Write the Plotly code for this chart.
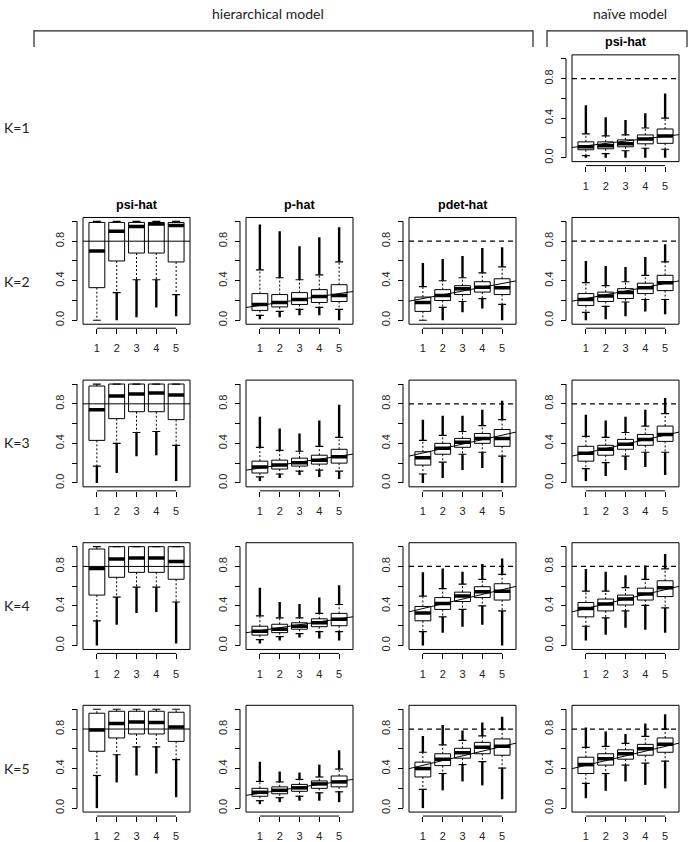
import plotly.graph_objects as go

W, H = 689, 842

# ---------------- data ----------------
categories = [1, 2, 3, 4, 5]
x_tick_labels = ["1", "2", "3", "4", "5"]
y_tick_vals = [0.0, 0.2, 0.4, 0.6, 0.8, 1.0]
y_tick_labels = ["0.0", "", "0.4", "", "0.8", ""]
xlim = [0.3, 5.7]
ylim = [-0.04, 1.04]

row_labels = ["K=1", "K=2", "K=3", "K=4", "K=5"]
col_titles = ["psi-hat", "p-hat", "pdet-hat", "psi-hat"]
group_titles = ["hierarchical model", "naïve model"]

# each box: [outlier_low, whisker_low, q1, median, q3, whisker_high, outlier_high]
naive_psi_K1 = [
    [0.00, 0.02, 0.08, 0.11, 0.16, 0.24, 0.53],
    [0.00, 0.04, 0.09, 0.12, 0.16, 0.22, 0.41],
    [0.00, 0.07, 0.11, 0.14, 0.18, 0.23, 0.38],
    [0.00, 0.095, 0.14, 0.19, 0.23, 0.30, 0.45],
    [0.00, 0.085, 0.145, 0.22, 0.29, 0.40, 0.65],
]

hier_psi_K2 = [
    [0.00, 0.00, 0.33, 0.70, 0.99, 1.00, 1.00],
    [0.00, 0.28, 0.60, 0.90, 0.99, 1.00, 1.00],
    [0.03, 0.41, 0.68, 0.95, 0.99, 1.00, 1.00],
    [0.13, 0.41, 0.68, 0.975, 0.99, 1.00, 1.00],
    [0.04, 0.26, 0.59, 0.96, 0.99, 1.00, 1.00],
]
hier_p_K2 = [
    [0.01, 0.05, 0.10, 0.16, 0.27, 0.51, 0.97],
    [0.03, 0.09, 0.135, 0.18, 0.26, 0.43, 0.90],
    [0.05, 0.11, 0.16, 0.21, 0.28, 0.41, 0.75],
    [0.05, 0.13, 0.18, 0.24, 0.31, 0.46, 0.84],
    [0.00, 0.11, 0.19, 0.25, 0.36, 0.59, 0.94],
]
hier_pdet_K2 = [
    [0.00, 0.00, 0.09, 0.18, 0.235, 0.34, 0.58],
    [0.00, 0.13, 0.20, 0.25, 0.31, 0.40, 0.62],
    [0.08, 0.19, 0.26, 0.32, 0.35, 0.43, 0.65],
    [0.12, 0.22, 0.285, 0.335, 0.39, 0.48, 0.73],
    [0.00, 0.16, 0.26, 0.33, 0.42, 0.54, 0.74],
]
naive_psi_K2 = [
    [0.00, 0.08, 0.15, 0.21, 0.27, 0.38, 0.60],
    [0.01, 0.14, 0.19, 0.245, 0.285, 0.35, 0.55],
    [0.04, 0.185, 0.22, 0.28, 0.32, 0.39, 0.54],
    [0.09, 0.21, 0.27, 0.33, 0.375, 0.455, 0.64],
    [0.06, 0.21, 0.30, 0.38, 0.455, 0.59, 0.77],
]

hier_psi_K3 = [
    [0.00, 0.17, 0.43, 0.74, 0.98, 1.00, 1.00],
    [0.10, 0.40, 0.65, 0.88, 1.00, 1.00, 1.00],
    [0.27, 0.51, 0.72, 0.90, 1.00, 1.00, 1.00],
    [0.28, 0.52, 0.72, 0.91, 1.00, 1.00, 1.00],
    [0.02, 0.38, 0.64, 0.89, 1.00, 1.00, 1.00],
]
hier_p_K3 = [
    [0.02, 0.06, 0.10, 0.16, 0.22, 0.36, 0.67],
    [0.05, 0.09, 0.14, 0.18, 0.23, 0.33, 0.55],
    [0.08, 0.12, 0.17, 0.205, 0.25, 0.32, 0.50],
    [0.06, 0.13, 0.19, 0.23, 0.28, 0.37, 0.63],
    [0.04, 0.12, 0.20, 0.265, 0.34, 0.46, 0.79],
]
hier_pdet_K3 = [
    [0.00, 0.09, 0.18, 0.255, 0.315, 0.43, 0.64],
    [0.05, 0.21, 0.29, 0.35, 0.40, 0.48, 0.68],
    [0.13, 0.29, 0.36, 0.41, 0.45, 0.52, 0.68],
    [0.15, 0.31, 0.40, 0.45, 0.50, 0.58, 0.74],
    [0.00, 0.27, 0.37, 0.45, 0.54, 0.64, 0.83],
]
naive_psi_K3 = [
    [0.02, 0.145, 0.22, 0.30, 0.37, 0.47, 0.69],
    [0.07, 0.205, 0.28, 0.34, 0.38, 0.46, 0.63],
    [0.13, 0.27, 0.34, 0.39, 0.44, 0.51, 0.67],
    [0.16, 0.31, 0.38, 0.44, 0.49, 0.575, 0.74],
    [0.08, 0.31, 0.42, 0.49, 0.575, 0.70, 0.86],
]

hier_psi_K4 = [
    [0.00, 0.25, 0.51, 0.78, 0.976, 1.00, 1.00],
    [0.21, 0.49, 0.69, 0.875, 1.00, 1.00, 1.00],
    [0.33, 0.59, 0.74, 0.885, 1.00, 1.00, 1.00],
    [0.34, 0.59, 0.74, 0.885, 1.00, 1.00, 1.00],
    [0.02, 0.44, 0.67, 0.85, 1.00, 1.00, 1.00],
]
hier_p_K4 = [
    [0.02, 0.06, 0.105, 0.145, 0.195, 0.30, 0.585],
    [0.05, 0.09, 0.13, 0.165, 0.215, 0.28, 0.44],
    [0.08, 0.12, 0.165, 0.195, 0.23, 0.28, 0.42],
    [0.07, 0.14, 0.19, 0.23, 0.27, 0.325, 0.485],
    [0.05, 0.14, 0.20, 0.265, 0.325, 0.415, 0.61],
]
hier_pdet_K4 = [
    [0.00, 0.14, 0.25, 0.33, 0.395, 0.50, 0.74],
    [0.13, 0.29, 0.365, 0.425, 0.485, 0.575, 0.78],
    [0.19, 0.365, 0.445, 0.50, 0.54, 0.62, 0.745],
    [0.21, 0.40, 0.485, 0.545, 0.595, 0.67, 0.825],
    [0.00, 0.35, 0.46, 0.55, 0.625, 0.72, 0.88],
]
naive_psi_K4 = [
    [0.05, 0.195, 0.29, 0.375, 0.435, 0.55, 0.775],
    [0.11, 0.28, 0.35, 0.42, 0.47, 0.55, 0.745],
    [0.18, 0.35, 0.41, 0.47, 0.51, 0.585, 0.71],
    [0.16, 0.405, 0.46, 0.52, 0.58, 0.67, 0.81],
    [0.13, 0.38, 0.495, 0.585, 0.655, 0.775, 0.925],
]

hier_psi_K5 = [
    [0.00, 0.33, 0.575, 0.79, 0.96, 1.00, 1.00],
    [0.26, 0.54, 0.71, 0.855, 0.98, 1.00, 1.00],
    [0.33, 0.62, 0.75, 0.87, 0.98, 1.00, 1.00],
    [0.35, 0.62, 0.75, 0.865, 0.98, 1.00, 1.00],
    [0.11, 0.49, 0.675, 0.82, 0.97, 1.00, 1.00],
]
hier_p_K5 = [
    [0.04, 0.075, 0.12, 0.16, 0.20, 0.27, 0.47],
    [0.06, 0.105, 0.145, 0.18, 0.215, 0.265, 0.37],
    [0.075, 0.12, 0.17, 0.205, 0.24, 0.29, 0.36],
    [0.075, 0.155, 0.20, 0.245, 0.275, 0.315, 0.44],
    [0.06, 0.165, 0.215, 0.265, 0.325, 0.395, 0.585],
]
hier_pdet_K5 = [
    [0.00, 0.19, 0.315, 0.40, 0.465, 0.565, 0.73],
    [0.18, 0.35, 0.43, 0.495, 0.55, 0.64, 0.84],
    [0.27, 0.44, 0.505, 0.56, 0.605, 0.685, 0.785],
    [0.23, 0.47, 0.55, 0.615, 0.665, 0.73, 0.865],
    [0.09, 0.405, 0.535, 0.625, 0.70, 0.80, 0.925],
]
naive_psi_K5 = [
    [0.10, 0.25, 0.35, 0.44, 0.515, 0.615, 0.815],
    [0.175, 0.35, 0.435, 0.50, 0.55, 0.625, 0.775],
    [0.27, 0.435, 0.495, 0.55, 0.59, 0.655, 0.75],
    [0.235, 0.455, 0.535, 0.60, 0.645, 0.725, 0.855],
    [0.20, 0.475, 0.565, 0.645, 0.71, 0.80, 0.95],
]

# reference lines (as drawn with abline): true psi, and intercept/slope lines
true_psi = 0.8
p_true_line = (0.12, 0.030)                 # intercept, slope
pdet_true_line = {                          # per K: intercept, slope
    1: (0.096, 0.024),
    2: (0.182, 0.038),
    3: (0.2575, 0.045),
    4: (0.326, 0.0478),
    5: (0.385, 0.0478),
}

# ---------------- layout geometry (pixels) ----------------
row_tops = [55, 218, 381, 544, 707]
col_lefts = [83, 246, 409, 572]
PW, PH = 107, 107
row_label_y = [128, 282, 444, 607, 770]

panels = [(0, 3, naive_psi_K1, "psi_hat_naive", 1)]
hier_sets = {2: (hier_psi_K2, hier_p_K2, hier_pdet_K2, naive_psi_K2),
             3: (hier_psi_K3, hier_p_K3, hier_pdet_K3, naive_psi_K3),
             4: (hier_psi_K4, hier_p_K4, hier_pdet_K4, naive_psi_K4),
             5: (hier_psi_K5, hier_p_K5, hier_pdet_K5, naive_psi_K5)}
kinds = ["psi_hier", "p", "pdet", "psi_hat_naive"]
for K in [2, 3, 4, 5]:
    for c in range(4):
        panels.append((K - 1, c, hier_sets[K][c], kinds[c], K))

fig = go.Figure()
layout_axes = {}
shapes = []
annotations = []

TICKFONT = dict(family="Liberation Sans, Arial, sans-serif", size=11, color="#222")

for i, (r, c, data, kind, K) in enumerate(panels):
    n = i + 1
    xa = "x" if n == 1 else f"x{n}"
    ya = "y" if n == 1 else f"y{n}"
    xkey = "xaxis" if n == 1 else f"xaxis{n}"
    ykey = "yaxis" if n == 1 else f"yaxis{n}"
    left, top = col_lefts[c], row_tops[r]
    x0p, x1p = left / W, (left + PW) / W
    y0p, y1p = 1 - (top + PH) / H, 1 - top / H
    yaxis_pos = (left - 6) / W
    xaxis_pos = 1 - (top + PH + 4) / H

    layout_axes[xkey] = dict(domain=[x0p, x1p], range=xlim, anchor="free", position=xaxis_pos,
                             tickmode="array", tickvals=categories, ticktext=x_tick_labels,
                             ticks="outside", ticklen=5, tickwidth=1, tickcolor="black",
                             showline=False, showgrid=False, zeroline=False,
                             tickfont=TICKFONT, ticklabelstandoff=5, fixedrange=True)
    layout_axes[ykey] = dict(domain=[y0p, y1p], range=ylim, anchor="free", position=yaxis_pos,
                             tickmode="array", tickvals=y_tick_vals, ticktext=y_tick_labels,
                             ticks="outside", ticklen=5, tickwidth=1, tickcolor="black",
                             tickangle=-90, showline=False, showgrid=False, zeroline=False,
                             tickfont=TICKFONT, ticklabelstandoff=4, fixedrange=True)

    olo = [b[0] for b in data]
    wlo = [b[1] for b in data]
    q1 = [b[2] for b in data]
    med = [b[3] for b in data]
    q3 = [b[4] for b in data]
    whi = [b[5] for b in data]
    ohi = [b[6] for b in data]

    # boxes
    fig.add_trace(go.Box(x=categories, q1=q1, median=med, q3=q3, lowerfence=q1, upperfence=q3,
                         width=0.8, whiskerwidth=0, boxpoints=False, fillcolor="white",
                         line=dict(color="black", width=1), xaxis=xa, yaxis=ya,
                         showlegend=False, hoverinfo="skip"))
    # whiskers (dashed)
    wx, wy = [], []
    for k, xc in enumerate(categories):
        wx += [xc, xc, None, xc, xc, None]
        wy += [q3[k], whi[k], None, q1[k], wlo[k], None]
    fig.add_trace(go.Scatter(x=wx, y=wy, mode="lines", line=dict(color="black", width=1, dash="2px,2px"),
                             xaxis=xa, yaxis=ya, showlegend=False, hoverinfo="skip"))
    # staples
    sx, sy = [], []
    for k, xc in enumerate(categories):
        sx += [xc - 0.2, xc + 0.2, None, xc - 0.2, xc + 0.2, None]
        sy += [whi[k], whi[k], None, wlo[k], wlo[k], None]
    fig.add_trace(go.Scatter(x=sx, y=sy, mode="lines", line=dict(color="black", width=1.2),
                             xaxis=xa, yaxis=ya, showlegend=False, hoverinfo="skip"))
    # outlier streaks (dense outlier points)
    ox, oy = [], []
    for k, xc in enumerate(categories):
        if ohi[k] > whi[k]:
            ox += [xc, xc, None]
            oy += [whi[k], ohi[k], None]
        if olo[k] < wlo[k]:
            ox += [xc, xc, None]
            oy += [wlo[k], olo[k], None]
    fig.add_trace(go.Scatter(x=ox, y=oy, mode="lines", line=dict(color="black", width=2.4),
                             xaxis=xa, yaxis=ya, showlegend=False, hoverinfo="skip"))
    # thick medians
    mx, my = [], []
    for k, xc in enumerate(categories):
        mx += [xc - 0.4, xc + 0.4, None]
        my += [med[k], med[k], None]
    fig.add_trace(go.Scatter(x=mx, y=my, mode="lines", line=dict(color="black", width=3.5),
                             xaxis=xa, yaxis=ya, showlegend=False, hoverinfo="skip"))

    # reference lines
    dref_x = xa + " domain"
    if kind == "psi_hier":
        shapes.append(dict(type="line", xref=dref_x, yref=ya, x0=0, x1=1, y0=true_psi, y1=true_psi,
                           line=dict(color="black", width=1), layer="above"))
    else:
        if kind in ("pdet", "psi_hat_naive"):
            shapes.append(dict(type="line", xref=dref_x, yref=ya, x0=0, x1=1, y0=true_psi, y1=true_psi,
                               line=dict(color="black", width=1.2, dash="5px,4px"), layer="above"))
            a, b = pdet_true_line[K]
        else:
            a, b = p_true_line
        fig.add_trace(go.Scatter(x=xlim, y=[a + b * xlim[0], a + b * xlim[1]], mode="lines",
                                 line=dict(color="black", width=1), xaxis=xa, yaxis=ya,
                                 showlegend=False, hoverinfo="skip"))

    # frame
    shapes.append(dict(type="rect", xref=dref_x, yref=ya + " domain", x0=0, x1=1, y0=0, y1=1,
                       line=dict(color="black", width=1), layer="above"))
    # axis lines (R style: span first to last tick)
    shapes.append(dict(type="line", xref="paper", yref=ya, x0=yaxis_pos, x1=yaxis_pos,
                       y0=y_tick_vals[0], y1=y_tick_vals[-1], line=dict(color="black", width=1)))
    shapes.append(dict(type="line", xref=xa, yref="paper", x0=categories[0], x1=categories[-1],
                       y0=xaxis_pos, y1=xaxis_pos, line=dict(color="black", width=1)))

    # panel titles: naive model titled only in K=1 row, hierarchical columns in K=2 row
    if (r == 0) or (r == 1 and c < 3):
        annotations.append(dict(text=f"<b>{col_titles[c]}</b>", xref="paper", yref="paper",
                                x=(left + PW / 2) / W, y=1 - (top - 13) / H, showarrow=False,
                                xanchor="center", yanchor="middle",
                                font=dict(family="Liberation Sans, Arial, sans-serif", size=12.5, color="black")))

# row labels
for r, lab in enumerate(row_labels):
    annotations.append(dict(text=lab, xref="paper", yref="paper", x=17 / W,
                            y=1 - row_label_y[r] / H, showarrow=False,
                            xanchor="center", yanchor="middle",
                            font=dict(family="Lato, sans-serif", size=14, color="#222")))

# group titles and brackets
annotations.append(dict(text=group_titles[0], xref="paper", yref="paper", x=268 / W, y=1 - 14 / H,
                        showarrow=False, xanchor="center", yanchor="middle",
                        font=dict(family="Lato, sans-serif", size=14, color="#222")))
annotations.append(dict(text=group_titles[1], xref="paper", yref="paper", x=630 / W, y=1 - 14 / H,
                        showarrow=False, xanchor="center", yanchor="middle",
                        font=dict(family="Lato, sans-serif", size=14, color="#222")))


def bracket(xl, xr, ytop, ybot):
    return dict(type="path", xref="paper", yref="paper",
                path=f"M {xl / W},{1 - ybot / H} L {xl / W},{1 - ytop / H} L {xr / W},{1 - ytop / H} L {xr / W},{1 - ybot / H}",
                line=dict(color="#222", width=1.2))


shapes.append(bracket(34, 533, 31, 47))
shapes.append(bracket(547, 687, 31, 47))

fig.update_layout(width=W, height=H, margin=dict(l=0, r=0, t=0, b=0),
                  paper_bgcolor="white", plot_bgcolor="white",
                  shapes=shapes, annotations=annotations, showlegend=False, **layout_axes)

fig.write_html("out.html", config={"displayModeBar": False},
               post_script="document.body.style.margin='0';document.body.style.overflow='hidden';")
